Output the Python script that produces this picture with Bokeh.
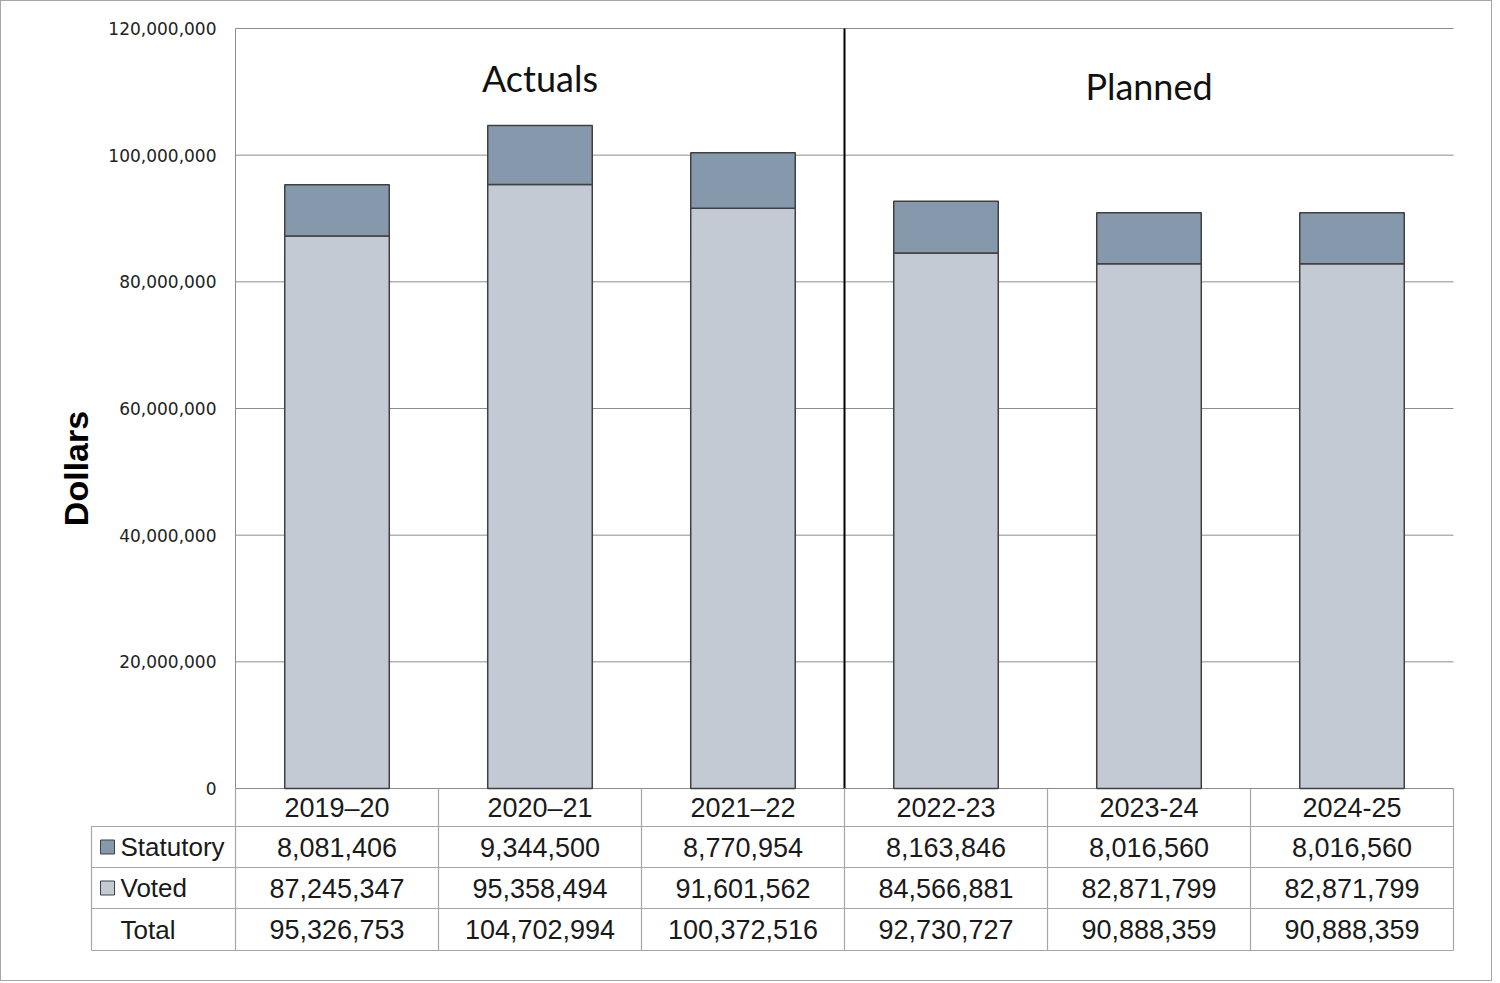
import math
from bokeh.plotting import figure
from bokeh.models import Range1d, ColumnDataSource
from bokeh.layouts import column
from bokeh.embed import file_html
from bokeh.resources import INLINE
from bokeh.core.properties import value

# ---------------- data ----------------
years = ["2019\u201320", "2020\u201321", "2021\u201322", "2022-23", "2023-24", "2024-25"]
statutory = [8081406, 9344500, 8770954, 8163846, 8016560, 8016560]
voted = [87245347, 95358494, 91601562, 84566881, 82871799, 82871799]
totals = [95326753, 104702994, 100372516, 92730727, 90888359, 90888359]
y_ticks = [0, 20000000, 40000000, 60000000, 80000000, 100000000, 120000000]
section_labels = ["Actuals", "Planned"]
row_labels = ["Statutory", "Voted", "Total"]

# ---------------- style / layout ----------------
STAT_COLOR = "#8598ac"
VOTED_COLOR = "#c3cad4"
EDGE = "#404040"
GRID = "#8c8c8c"
TLINE = "#a6a6a6"
TXT = "#1a1a1a"
FONT = "Liberation Sans"

W, H = 1490, 979          # canvas (inside a 1px page border)
OX, OY = 1, 1             # canvas offset on the page
CW = 203.0                # pixel width of one category column
X_LEFT = 235              # page x of the plot area's left edge
Y_ZERO, Y_TOP = 788, 28   # page y of 0 and of the top of the value axis
YMAX = 120000000
PX = YMAX / (Y_ZERO - Y_TOP)   # dollars per pixel
LW = 144 / CW             # width of the table's label column (in category units)
rows = [788, 826, 867, 908, 950]   # table row boundaries (page y)

n = len(years)

p = figure(width=W, height=H, output_backend="svg", toolbar_location=None,
           x_range=Range1d((OX - X_LEFT) / CW, (OX + W - X_LEFT) / CW),
           y_range=Range1d((Y_ZERO - (OY + H)) * PX, (Y_ZERO - OY) * PX),
           x_axis_location=None, y_axis_location=None)
p.extra_y_ranges = {"px": Range1d(OY + H, OY)}
p.min_border_left = p.min_border_right = p.min_border_top = p.min_border_bottom = 0
p.outline_line_color = None
p.xgrid.visible = False
p.ygrid.visible = False

# ---------------- chart ----------------
xs = [i + 0.5 for i in range(n)]
src = ColumnDataSource(dict(x=xs, voted=voted, statutory=statutory))

# horizontal grid lines at the value ticks
p.segment(x0=[0] * len(y_ticks), x1=[n] * len(y_ticks), y0=y_ticks, y1=y_ticks,
          line_color=GRID, line_width=1)
# value axis line
p.segment(x0=[0], y0=[0], x1=[0], y1=[YMAX], line_color=GRID, line_width=1)

p.vbar_stack(["voted", "statutory"], x="x", width=0.515, source=src,
             fill_color=[VOTED_COLOR, STAT_COLOR], line_color=EDGE, line_width=1.5)

# divider between actuals and planned
p.segment(x0=[3], y0=[0], x1=[3], y1=[YMAX], line_color="black", line_width=2)

# value tick labels
p.text(x=[-19 / CW] * len(y_ticks), y=y_ticks, text=[f"{t:,}" for t in y_ticks],
       text_font=value("DejaVu Sans"), text_font_size="17px", text_color="#222222",
       text_align="right", text_baseline="middle")

# section headings
p.text(x=[1.5, 4.5], y=[(Y_ZERO - 77) * PX, (Y_ZERO - 85) * PX], text=section_labels,
       text_font=value("Lato"), text_font_size="36px", text_color="#111111",
       text_align="center", text_baseline="middle")

# axis title
p.text(x=[(75 - X_LEFT) / CW], y=[(Y_ZERO - 468) * PX], text=["Dollars"], angle=math.pi / 2,
       text_font=value(FONT), text_font_style="bold", text_font_size="34px",
       text_color="black", text_align="center", text_baseline="middle")

# ---------------- data table ----------------
hx0 = [-LW] * 4
hx1 = [n] * 4
hy = rows[1:]
vx = list(range(n + 1)) + [-LW]
vy0 = [rows[0]] * (n + 1) + [rows[1]]
vy1 = [rows[-1]] * (n + 2)
p.segment(x0=hx0, y0=hy, x1=hx1, y1=hy, line_color=TLINE, line_width=1.2, y_range_name="px")
p.segment(x0=vx, y0=vy0, x1=vx, y1=vy1, line_color=TLINE, line_width=1.2, y_range_name="px")

centers = [(rows[i] + rows[i + 1]) / 2 for i in range(4)]

p.text(x=xs, y=[centers[0]] * n, text=years, text_font=value(FONT),
       text_font_size="27px", text_color=TXT, text_align="center",
       text_baseline="middle", y_range_name="px")
for r, series in enumerate([statutory, voted, totals]):
    p.text(x=xs, y=[centers[r + 1]] * n, text=[f"{v:,}" for v in series],
           text_font=value(FONT), text_font_size="27px", text_color=TXT,
           text_align="center", text_baseline="middle", y_range_name="px")

lab_x = -LW + 29 / CW
p.text(x=[lab_x] * 3, y=centers[1:], text=row_labels,
       text_font=value(FONT), text_font_size="26px", text_color=TXT,
       text_align="left", text_baseline="middle", y_range_name="px")
sw_x = -LW + 16 / CW
p.scatter(x=[sw_x, sw_x], y=[centers[1], centers[2]], marker="square", size=14,
          fill_color=[STAT_COLOR, VOTED_COLOR], line_color=EDGE, line_width=1,
          y_range_name="px")

layout = column(p, spacing=0, styles={"border": "1px solid #a6a6a6"})

open("out.html", "w").write(file_html(layout, INLINE, title="Spending"))
